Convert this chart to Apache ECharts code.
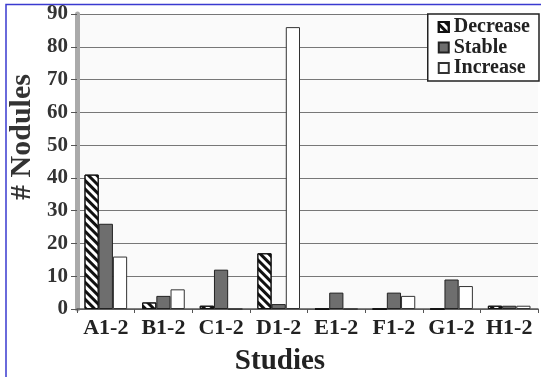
<!DOCTYPE html>
<html><head><meta charset="utf-8">
<script src="https://cdn.jsdelivr.net/npm/echarts@6/dist/echarts.min.js"></script>
<style>html,body{margin:0;padding:0;background:#fff}#c{width:541px;height:377px}</style>
</head><body><div id="c"></div>
<script>
const categories = ['A1-2','B1-2','C1-2','D1-2','E1-2','F1-2','G1-2','H1-2'];
const decrease = [41, 2, 1, 17, 0, 0, 0, 1];
const stable   = [26, 4, 12, 1.5, 5, 5, 9, 1];
const increase = [16, 6, 0, 86, 0, 4, 7, 1];
const yTicks = [0,10,20,30,40,50,60,70,80,90];

const font = 'Liberation Serif';
const chart = echarts.init(document.getElementById('c'));
chart.setOption({
  animation: false,
  backgroundColor: '#fff',
  textStyle: {fontFamily: font},
  grid: {left: 77, right: 3, top: 14, bottom: 68, show: true, backgroundColor: '#fafafa', borderWidth: 0},
  legend: {
    orient: 'vertical', right: 2, top: 14,
    data: ['Decrease','Stable','Increase'],
    backgroundColor: '#fff', borderColor: '#222', borderWidth: 1.5,
    padding: [3, 9, 3, 10], itemGap: 0.5, itemWidth: 10, itemHeight: 10,
    textStyle: {fontFamily: font, fontWeight: 'bold', fontSize: 20, lineHeight: 18, color: '#222'},
    icon: 'rect'
  },
  xAxis: {
    type: 'category', data: categories,
    axisLine: {lineStyle: {color: '#555', width: 1.5}},
    axisTick: {show: true, length: 4, lineStyle: {color: '#555'}},
    axisLabel: {interval: 0, fontFamily: font, fontWeight: 'bold', fontSize: 22, color: '#222', margin: 8}
  },
  yAxis: {
    type: 'value', min: 0, max: 90, interval: 10,
    axisLine: {show: true, lineStyle: {color: '#aaa', width: 5}},
    axisTick: {show: true, length: 6, lineStyle: {color: '#555'}},
    axisLabel: {fontFamily: font, fontWeight: 'bold', fontSize: 21, color: '#333', margin: 9,
      formatter: v => yTicks.includes(v) ? String(v) : ''},
    splitLine: {lineStyle: {color: '#777', width: 1.2}}
  },
  graphic: [
    {type: 'text', x: 22, y: 137, rotation: Math.PI/2,
     style: {text: '# Nodules', fontFamily: font, fontWeight: 'bold', fontSize: 30, fill: '#333',
       textAlign: 'center', textVerticalAlign: 'middle'}},
    {type: 'text', x: 280, y: 362,
     style: {text: 'Studies', fontFamily: font, fontWeight: 'bold', fontSize: 29, fill: '#222',
       textAlign: 'center', textVerticalAlign: 'middle'}},
    {type: 'polyline', shape: {points: [[6, 377], [6, 4.5], [541, 4.5]]},
     style: {stroke: '#3a3ad0', lineWidth: 1.5, fill: null}}
  ],
  series: [
    {name: 'Decrease', type: 'bar', data: decrease, barGap: '0%', barCategoryGap: '26%',
     itemStyle: {color: '#fff', borderColor: '#111', borderWidth: 1,
       decal: {color: '#111', dashArrayX: [1, 0], dashArrayY: [3, 3], rotation: Math.PI/4, symbol: 'rect'}}},
    {name: 'Stable', type: 'bar', data: stable,
     itemStyle: {color: '#6e6e6e', borderColor: '#222', borderWidth: 1}},
    {name: 'Increase', type: 'bar', data: increase,
     itemStyle: {color: '#fff', borderColor: '#333', borderWidth: 1}}
  ]
});
</script></body></html>
